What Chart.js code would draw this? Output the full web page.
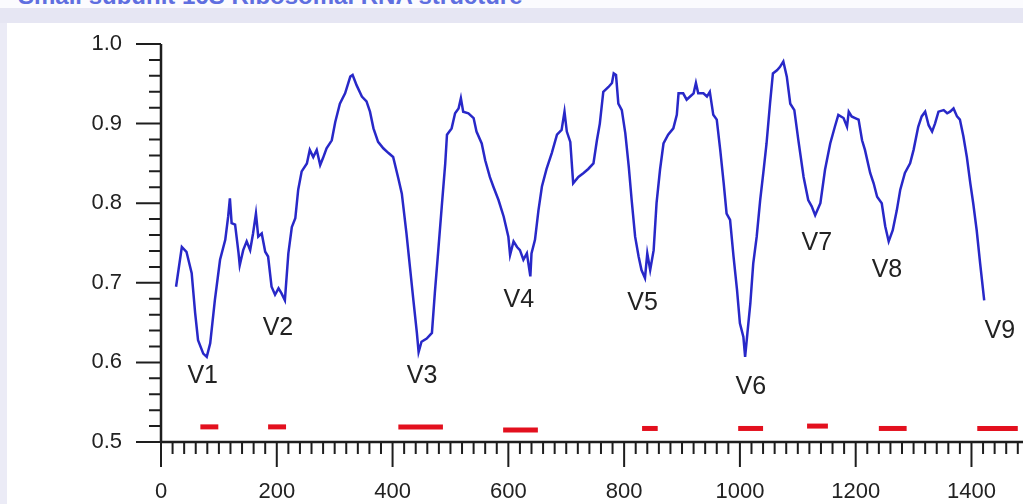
<!DOCTYPE html>
<html>
<head>
<meta charset="utf-8">
<script src="https://cdn.jsdelivr.net/npm/chart.js@4.4.1/dist/chart.umd.min.js"></script>
<style>
  html, body { margin: 0; padding: 0; }
  body { width: 1023px; height: 504px; overflow: hidden; position: relative; background: #fbfbfe; font-family: "Liberation Sans", Arial, sans-serif; }
  #title { position: absolute; left: 18px; top: -16px; font: bold 24px/24px "Liberation Sans", Arial, sans-serif; color: #5f6fe0; white-space: nowrap; }
  #band { position: absolute; left: 0; top: 8px; width: 1023px; height: 15px; background: #e6e6f3; }
  #panel { position: absolute; left: 0; top: 23px; width: 1023px; height: 481px; background: #ffffff; border-left: 7px solid #ebebf6; box-sizing: border-box; }
  #chart { position: absolute; left: 0; top: 0; }
</style>
</head>
<body>
<div id="title">Small subunit 16S Ribosomal RNA structure</div>
<div id="band"></div>
<div id="panel"></div>
<canvas id="chart" width="1023" height="504"></canvas>
<script>
// Residue position (x) and conservation score (y)
const positions = [
  26, 36, 44, 53, 59, 64, 73, 79, 85, 93, 102, 111, 116, 119, 122, 128, 134, 136, 142, 148,
  154, 159, 164, 168, 174, 180, 185, 191, 197, 203, 208, 214, 220, 226, 232, 237, 243, 252, 257, 263,
  269, 275, 280, 286, 295, 301, 309, 318, 327, 331, 338, 347, 355, 361, 367, 375, 384, 393, 401, 410,
  416, 424, 430, 436, 442, 445, 450, 459, 468, 473, 479, 485, 491, 494, 502, 508, 514, 518, 522, 531,
  540, 545, 554, 560, 568, 574, 583, 592, 600, 603, 609, 615, 620, 626, 632, 638, 640, 646, 652, 658,
  666, 675, 684, 692, 697, 701, 707, 712, 721, 730, 738, 747, 753, 758, 764, 773, 779, 782, 786, 790,
  796, 802, 808, 813, 819, 825, 830, 836, 840, 845, 851, 856, 862, 868, 876, 885, 891, 894, 902, 908,
  914, 920, 924, 928, 937, 943, 948, 954, 960, 966, 972, 977, 983, 989, 995, 1000, 1006, 1009, 1013, 1018,
  1023, 1029, 1035, 1041, 1046, 1052, 1057, 1064, 1069, 1075, 1081, 1087, 1094, 1101, 1110, 1118, 1124, 1130, 1139, 1147,
  1156, 1164, 1170, 1179, 1185, 1188, 1193, 1199, 1205, 1211, 1216, 1225, 1231, 1237, 1245, 1251, 1257, 1264, 1271, 1277,
  1285, 1294, 1300, 1308, 1314, 1320, 1326, 1332, 1337, 1343, 1352, 1358, 1363, 1369, 1375, 1380, 1386, 1392, 1398, 1403,
  1409, 1415, 1422
]
const scores = [
  0.695, 0.745, 0.739, 0.712, 0.662, 0.628, 0.611, 0.607, 0.624, 0.678, 0.729, 0.754, 0.783, 0.806, 0.775, 0.773, 0.737, 0.722, 0.741, 0.752,
  0.741, 0.762, 0.787, 0.758, 0.762, 0.739, 0.733, 0.695, 0.685, 0.693, 0.687, 0.678, 0.737, 0.770, 0.781, 0.817, 0.840, 0.850, 0.867, 0.858,
  0.867, 0.848, 0.857, 0.869, 0.879, 0.902, 0.925, 0.938, 0.959, 0.961, 0.948, 0.934, 0.928, 0.915, 0.894, 0.877, 0.869, 0.863, 0.858, 0.831,
  0.812, 0.762, 0.720, 0.678, 0.637, 0.613, 0.626, 0.630, 0.637, 0.687, 0.741, 0.796, 0.850, 0.886, 0.894, 0.913, 0.919, 0.932, 0.915, 0.913,
  0.907, 0.890, 0.875, 0.854, 0.833, 0.821, 0.804, 0.783, 0.758, 0.735, 0.752, 0.745, 0.741, 0.729, 0.737, 0.708, 0.737, 0.754, 0.791, 0.821,
  0.843, 0.863, 0.886, 0.892, 0.915, 0.890, 0.877, 0.825, 0.833, 0.838, 0.843, 0.850, 0.879, 0.900, 0.940, 0.946, 0.951, 0.963, 0.961, 0.925,
  0.917, 0.888, 0.846, 0.804, 0.758, 0.733, 0.716, 0.706, 0.737, 0.716, 0.741, 0.800, 0.842, 0.875, 0.886, 0.894, 0.911, 0.938, 0.938, 0.930,
  0.934, 0.938, 0.951, 0.938, 0.938, 0.934, 0.940, 0.911, 0.905, 0.867, 0.825, 0.787, 0.779, 0.733, 0.691, 0.649, 0.632, 0.607, 0.637, 0.674,
  0.724, 0.758, 0.804, 0.842, 0.875, 0.925, 0.963, 0.967, 0.971, 0.978, 0.959, 0.925, 0.917, 0.879, 0.833, 0.804, 0.796, 0.785, 0.800, 0.842,
  0.875, 0.896, 0.911, 0.907, 0.896, 0.915, 0.909, 0.907, 0.905, 0.879, 0.867, 0.838, 0.825, 0.808, 0.800, 0.771, 0.752, 0.766, 0.791, 0.817,
  0.838, 0.850, 0.867, 0.896, 0.909, 0.915, 0.898, 0.890, 0.900, 0.915, 0.917, 0.913, 0.915, 0.919, 0.909, 0.905, 0.884, 0.858, 0.825, 0.800,
  0.766, 0.724, 0.678
]

// Variable regions V1..V9 (red bars) and their labels
const regionNames = ['V1', 'V2', 'V3', 'V4', 'V5', 'V6', 'V7', 'V8', 'V9']
const regionStarts = [68, 185, 410, 591, 831, 997, 1116, 1240, 1410]
const regionEnds = [99, 216, 487, 651, 858, 1040, 1152, 1288, 1480]
const regionLevels = [0.519, 0.519, 0.519, 0.515, 0.517, 0.517, 0.520, 0.517, 0.517]
const labelX = [72, 202, 451, 618, 832, 1019, 1133, 1254, 1449]
const labelY = [0.583, 0.643, 0.583, 0.678, 0.675, 0.569, 0.750, 0.716, 0.639]

const xTickLabels = [0, 200, 400, 600, 800, 1000, 1200, 1400]
const yTickLabels = [0.5, 0.6, 0.7, 0.8, 0.9, 1.0]

const inkColor = '#1e1e1e'
const tickFont = { family: '"Liberation Sans", Arial, sans-serif', size: 22 }

// keep the plot box fixed: no extra room for overhanging tick labels
function fixScaleBox(s, size) {
  if (s.isHorizontal()) s.height = size
  else s.width = size
  s.paddingTop = 0
  s.paddingBottom = 0
  s.paddingLeft = 0
  s.paddingRight = 0
}

// Axis lines, major/minor tick marks and the V labels
const axisPlugin = {
  id: 'axisTicks',
  afterDraw(chart) {
    const { ctx } = chart
    const x = chart.scales.x
    const y = chart.scales.y
    const x0 = x.getPixelForValue(0)
    const yBase = y.getPixelForValue(0.5)
    ctx.save()
    ctx.strokeStyle = inkColor
    ctx.lineCap = 'butt'

    ctx.lineWidth = 2.5
    ctx.beginPath()
    ctx.moveTo(x0, y.getPixelForValue(1.0))
    ctx.lineTo(x0, yBase)
    ctx.moveTo(x0, yBase)
    ctx.lineTo(chart.width, yBase)
    ctx.stroke()

    ctx.lineWidth = 2
    ctx.beginPath()
    for (let v = 0; v <= x.max; v += 20) {
      const px = x.getPixelForValue(v)
      const len = v % 200 === 0 ? 25 : 12
      ctx.moveTo(px, yBase)
      ctx.lineTo(px, yBase + len)
    }
    for (let i = 0; i <= 25; i++) {
      const py = y.getPixelForValue(0.5 + i * 0.02)
      const len = i % 5 === 0 ? 25 : 12
      ctx.moveTo(x0, py)
      ctx.lineTo(x0 - len, py)
    }
    ctx.stroke()

    ctx.fillStyle = '#222'
    ctx.font = '25px "Liberation Sans", Arial, sans-serif'
    ctx.textAlign = 'center'
    ctx.textBaseline = 'middle'
    regionNames.forEach((name, i) => {
      ctx.fillText(name, x.getPixelForValue(labelX[i]), y.getPixelForValue(labelY[i]))
    })
    ctx.restore()
  }
}

const regionDatasets = regionNames.map((name, i) => ({
  label: name,
  data: [{ x: regionStarts[i], y: regionLevels[i] }, { x: regionEnds[i], y: regionLevels[i] }],
  borderColor: '#e3101e',
  borderWidth: 5,
  pointRadius: 0,
  borderCapStyle: 'butt'
}))

new Chart(document.getElementById('chart'), {
  type: 'line',
  data: {
    datasets: [{
      label: 'Conservation',
      data: positions.map((p, i) => ({ x: p, y: scores[i] })),
      borderColor: '#2828c8',
      borderWidth: 2.5,
      pointRadius: 0,
      tension: 0
    }].concat(regionDatasets)
  },
  options: {
    responsive: false,
    animation: false,
    layout: { padding: { top: 44, left: 0, right: 0, bottom: 0 } },
    plugins: {
      legend: { display: false },
      tooltip: { enabled: false }
    },
    scales: {
      x: {
        type: 'linear',
        min: 0,
        max: 1489,
        grid: { display: false, drawTicks: false },
        border: { display: false },
        afterBuildTicks: s => { s.ticks = xTickLabels.map(v => ({ value: v })) },
        afterFit: s => fixScaleBox(s, 62),
        ticks: { font: tickFont, color: '#222', padding: 37, maxRotation: 0, autoSkip: false, callback: v => String(v) }
      },
      y: {
        min: 0.5,
        max: 1.0,
        grid: { display: false, drawTicks: false },
        border: { display: false },
        afterBuildTicks: s => { s.ticks = yTickLabels.map(v => ({ value: v })) },
        afterFit: s => fixScaleBox(s, 161),
        ticks: { font: tickFont, color: '#222', padding: 39, callback: v => v.toFixed(1) }
      }
    }
  },
  plugins: [axisPlugin]
})
</script>
</body>
</html>
